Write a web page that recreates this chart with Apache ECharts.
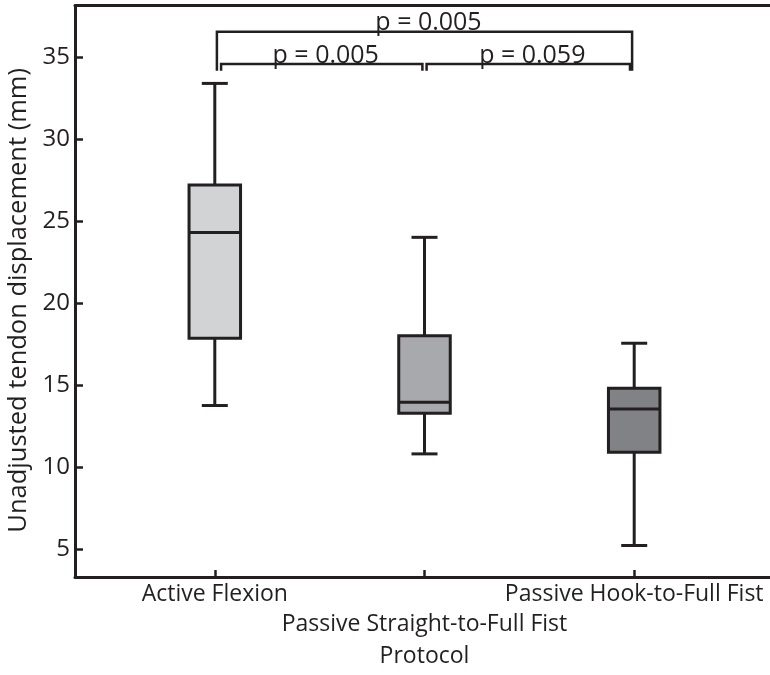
<!DOCTYPE html>
<html>
<head>
<meta charset="utf-8">
<script src="https://cdn.jsdelivr.net/npm/echarts@6/dist/echarts.min.js"></script>
<style>
  html, body { margin: 0; padding: 0; background: #fff; }
  #chart { width: 770px; height: 675px; }
</style>
</head>
<body>
<div id="chart"></div>
<script>
// 箱线图数据
var categories = ['Active Flexion', 'Passive Straight-to-Full Fist', 'Passive Hook-to-Full Fist'];
var positions = [1, 2, 3];
var minVals = [13.76, 10.81, 5.22];
var q1Vals = [17.87, 13.29, 10.91];
var medianVals = [24.31, 13.96, 13.55];
var q3Vals = [27.21, 18.02, 14.82];
var maxVals = [33.41, 24.02, 17.56];
var yTicks = [5, 10, 15, 20, 25, 30, 35];

// 显著性标注
var bracketFrom = [1.01, 1.03, 2.01];
var bracketTo = [2.99, 1.99, 2.98];
var bracketLevel = [36.56, 34.59, 34.59];
var bracketFoot = 34.18;
var pLabels = ['p = 0.005', 'p = 0.005', 'p = 0.059'];

(function() {
  var ink = '#231f20';
  var fills = ['#d1d3d4', '#a7a9ac', '#808285'];
  var font = "'Open Sans', 'Noto Sans', sans-serif";

  var boxData = positions.map(function(x, i) {
    return [x, minVals[i], q1Vals[i], medianVals[i], q3Vals[i], maxVals[i], i];
  });
  var bracketData = bracketFrom.map(function(x, i) {
    return [x, bracketTo[i], bracketLevel[i], bracketFoot, i];
  });

  function renderBox(params, api) {
    var x = api.value(0);
    var lo = api.coord([x, api.value(1)]);
    var q1 = api.coord([x, api.value(2)]);
    var md = api.coord([x, api.value(3)]);
    var q3 = api.coord([x, api.value(4)]);
    var hi = api.coord([x, api.value(5)]);
    var cx = lo[0];
    var bw = 51.5, cw = 26;
    var ls = { stroke: ink, lineWidth: 3 };
    return {
      type: 'group',
      children: [
        { type: 'line', shape: { x1: cx, y1: hi[1], x2: cx, y2: q3[1] }, style: ls },
        { type: 'line', shape: { x1: cx, y1: q1[1], x2: cx, y2: lo[1] }, style: ls },
        { type: 'line', shape: { x1: cx - cw / 2, y1: hi[1], x2: cx + cw / 2, y2: hi[1] }, style: ls },
        { type: 'line', shape: { x1: cx - cw / 2, y1: lo[1], x2: cx + cw / 2, y2: lo[1] }, style: ls },
        { type: 'rect', shape: { x: cx - bw / 2, y: q3[1], width: bw, height: q1[1] - q3[1] },
          style: { fill: fills[api.value(6)], stroke: ink, lineWidth: 3 } },
        { type: 'line', shape: { x1: cx - bw / 2, y1: md[1], x2: cx + bw / 2, y2: md[1] }, style: ls }
      ]
    };
  }

  function renderBracket(params, api) {
    var a = api.coord([api.value(0), api.value(2)]);
    var b = api.coord([api.value(1), api.value(2)]);
    var foot = api.coord([api.value(0), api.value(3)])[1];
    return {
      type: 'group',
      children: [
        { type: 'polyline',
          shape: { points: [[a[0], foot], [a[0], a[1]], [b[0], b[1]], [b[0], foot]] },
          style: { stroke: ink, lineWidth: 2.5, fill: null } },
        { type: 'text',
          style: { x: (a[0] + b[0]) / 2 + 4, y: a[1] + 4, text: pLabels[api.value(4)],
            fill: ink, font: '25px ' + font, align: 'center', verticalAlign: 'bottom' } }
      ]
    };
  }

  function catLabel(v) {
    var i = positions.indexOf(v);
    return i < 0 ? '' : categories[i];
  }

  var xCommon = {
    type: 'value',
    min: 1 / 3,
    max: 11 / 3,
    position: 'bottom',
    axisLine: { show: false },
    splitLine: { show: false }
  };
  var frameLine = { show: true, onZero: false, lineStyle: { color: ink, width: 3 } };

  var chart = echarts.init(document.getElementById('chart'));
  chart.setOption({
    animation: false,
    textStyle: { fontFamily: font, color: ink },
    grid: {
      left: 75, width: 699, top: 5.7, bottom: 98,
      outerBoundsMode: 'none'
    },
    xAxis: [
      Object.assign({}, xCommon, {
        name: 'Protocol',
        nameLocation: 'middle',
        nameGap: 68,
        nameTextStyle: { fontSize: 23, color: ink, fontFamily: font },
        axisLine: frameLine,
        axisTick: { inside: true, length: 7, customValues: positions, lineStyle: { color: ink, width: 2.5 } },
        axisLabel: {
          customValues: [positions[0], positions[2]],
          showMinLabel: true,
          showMaxLabel: true,
          margin: 6,
          fontSize: 23,
          color: ink,
          fontFamily: font,
          formatter: catLabel
        }
      }),
      // 中间类别标签放在第二行
      Object.assign({}, xCommon, {
        axisTick: { show: false },
        axisLabel: {
          customValues: [positions[1]],
          showMinLabel: true,
          showMaxLabel: true,
          margin: 36,
          fontSize: 23,
          color: ink,
          fontFamily: font,
          formatter: catLabel
        }
      }),
      // 顶部边框
      Object.assign({}, xCommon, {
        position: 'top',
        axisLine: frameLine,
        axisTick: { show: false },
        axisLabel: { show: false }
      })
    ],
    yAxis: {
      type: 'value',
      min: 3.3,
      max: 38.15,
      name: 'Unadjusted tendon displacement (mm)',
      nameLocation: 'middle',
      nameGap: 41,
      nameTextStyle: { fontSize: 25.5, color: ink, fontFamily: font, padding: [0, 18, 0, 0] },
      axisLine: frameLine,
      splitLine: { show: false },
      axisTick: { inside: true, length: 8, customValues: yTicks, lineStyle: { color: ink, width: 2.5 } },
      axisLabel: { customValues: yTicks, margin: 5, fontSize: 24, color: ink, fontFamily: font }
    },
    series: [
      {
        type: 'custom',
        renderItem: renderBox,
        data: boxData,
        encode: { x: 0, y: [1, 2, 3, 4, 5] },
        clip: false
      },
      {
        type: 'custom',
        renderItem: renderBracket,
        data: bracketData,
        encode: { x: [0, 1], y: [2, 3] },
        clip: false
      }
    ]
  });
})();
</script>
</body>
</html>
